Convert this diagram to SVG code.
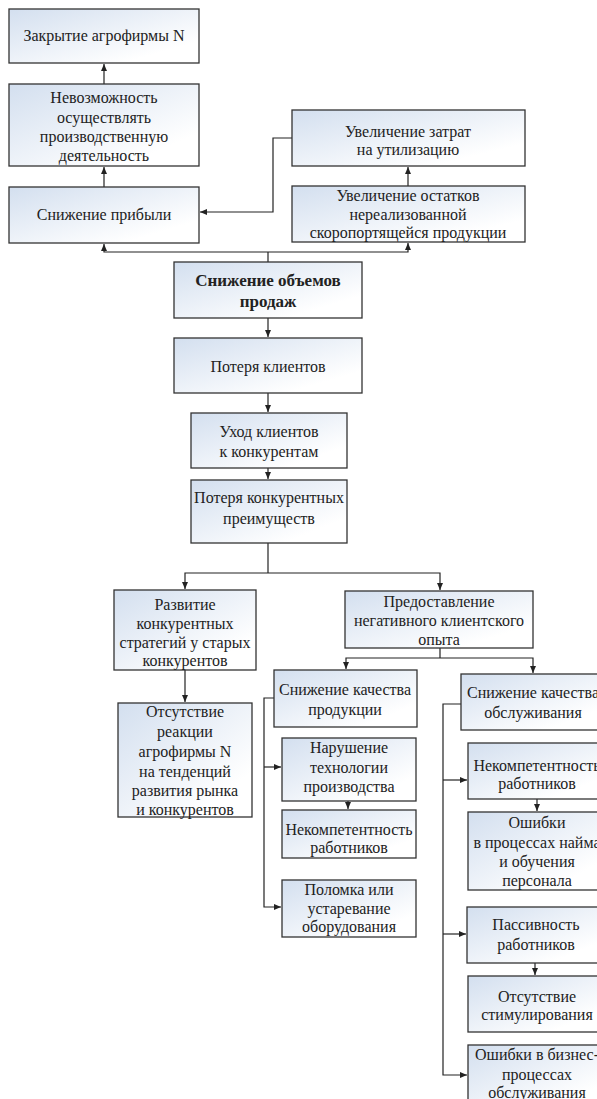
<svg xmlns="http://www.w3.org/2000/svg" width="597" height="1099" viewBox="0 0 597 1099">
<defs>
<linearGradient id="g" x1="0" y1="0" x2="1" y2="1">
<stop offset="0" stop-color="#d3dfef"/>
<stop offset="0.8" stop-color="#ffffff"/>
</linearGradient>
<marker id="ah" markerUnits="userSpaceOnUse" markerWidth="8" markerHeight="8" viewBox="0 0 8 8" refX="7" refY="4" orient="auto">
<path d="M0,1 L7,4 L0,7 Z" fill="#222"/>
</marker>
<style>
rect{fill:url(#g);stroke:#333;stroke-width:1.3}
text{font-family:"Liberation Serif","Times New Roman",serif;font-size:16px;fill:#222;text-anchor:middle}
.b{font-weight:bold;font-size:17px}
#connectors path{fill:none;stroke:#222;stroke-width:1.2}
</style>
</defs>
<rect x="0" y="0" width="597" height="1099" style="fill:#fff;stroke:none"/>
<g id="connectors">
<path d="M104,84 V64" marker-end="url(#ah)"/>
<path d="M104,187 V167" marker-end="url(#ah)"/>
<path d="M292,138 H273 V212 H200" marker-end="url(#ah)"/>
<path d="M408,186 V167" marker-end="url(#ah)"/>
<path d="M268,262 V252"/>
<path d="M268,252 H104 V244" marker-end="url(#ah)"/>
<path d="M268,252 H408 V243" marker-end="url(#ah)"/>
<path d="M268,318 V337" marker-end="url(#ah)"/>
<path d="M268,393 V412" marker-end="url(#ah)"/>
<path d="M268,468 V479" marker-end="url(#ah)"/>
<path d="M268,543 V573"/>
<path d="M268,573 H185 V589" marker-end="url(#ah)"/>
<path d="M268,573 H440 V590" marker-end="url(#ah)"/>
<path d="M185,670 V702" marker-end="url(#ah)"/>
<path d="M440,648 V658"/>
<path d="M440,658 H346 V669" marker-end="url(#ah)"/>
<path d="M440,658 H533 V673" marker-end="url(#ah)"/>
<path d="M274,698 H264 V907 H281" marker-end="url(#ah)"/>
<path d="M264,767 H281" marker-end="url(#ah)"/>
<path d="M348,801 V809" marker-end="url(#ah)"/>
<path d="M461,704 H443 V1075 H467" marker-end="url(#ah)"/>
<path d="M443,780 H467" marker-end="url(#ah)"/>
<path d="M443,934 H466" marker-end="url(#ah)"/>
<path d="M537,799 V811" marker-end="url(#ah)"/>
<path d="M535,963 V975" marker-end="url(#ah)"/>
</g>
<g id="n1"><rect x="9" y="9" width="190" height="54"/><text x="104" y="41">Закрытие агрофирмы N</text></g>
<g id="n2"><rect x="9" y="84" width="190" height="82"/><text x="104" y="103">Невозможность</text><text x="104" y="123">осуществлять</text><text x="104" y="142">производственную</text><text x="104" y="161">деятельность</text></g>
<g id="n3"><rect x="9" y="187" width="190" height="56"/><text x="104" y="220">Снижение прибыли</text></g>
<g id="n4"><rect x="292" y="110" width="233" height="56"/><text x="408" y="137">Увеличение затрат</text><text x="408" y="155">на утилизацию</text></g>
<g id="n5"><rect x="292" y="186" width="233" height="56"/><text x="408" y="201">Увеличение остатков</text><text x="408" y="220">нереализованной</text><text x="408" y="238">скоропортящейся продукции</text></g>
<g id="n6"><rect x="174" y="262" width="188" height="56"/><text class="b" x="268" y="286">Снижение объемов</text><text class="b" x="268" y="307">продаж</text></g>
<g id="n7"><rect x="174" y="338" width="188" height="55"/><text x="268" y="372">Потеря клиентов</text></g>
<g id="n8"><rect x="191" y="413" width="156" height="55"/><text x="269" y="437">Уход клиентов</text><text x="269" y="457">к конкурентам</text></g>
<g id="n9"><rect x="191" y="480" width="156" height="63"/><text x="269" y="503">Потеря конкурентных</text><text x="269" y="524">преимуществ</text></g>
<g id="n10"><rect x="114" y="590" width="142" height="80"/><text x="185" y="610">Развитие</text><text x="185" y="629">конкурентных</text><text x="185" y="648">стратегий у старых</text><text x="185" y="666">конкурентов</text></g>
<g id="n11"><rect x="118" y="703" width="134" height="114"/><text x="185" y="717">Отсутствие</text><text x="185" y="737">реакции</text><text x="185" y="757">агрофирмы  N</text><text x="185" y="777">на тенденций</text><text x="185" y="796">развития рынка</text><text x="185" y="815">и конкурентов</text></g>
<g id="n12"><rect x="345" y="591" width="188" height="57"/><text x="439" y="607">Предоставление</text><text x="439" y="626">негативного клиентского</text><text x="439" y="645">опыта</text></g>
<g id="n13"><rect x="274" y="670" width="143" height="57"/><text x="345" y="695">Снижение качества</text><text x="345" y="715">продукции</text></g>
<g id="n14"><rect x="461" y="674" width="144" height="56"/><text x="533" y="698">Снижение качества</text><text x="533" y="718">обслуживания</text></g>
<g id="n15"><rect x="282" y="738" width="134" height="63"/><text x="349" y="753">Нарушение</text><text x="349" y="773">технологии</text><text x="349" y="792">производства</text></g>
<g id="n16"><rect x="282" y="810" width="134" height="48"/><text x="349" y="835">Некомпетентность</text><text x="349" y="853">работников</text></g>
<g id="n17"><rect x="282" y="880" width="134" height="57"/><text x="349" y="895">Поломка или</text><text x="349" y="914">устаревание</text><text x="349" y="932">оборудования</text></g>
<g id="n18"><rect x="468" y="743" width="138" height="56"/><text x="537" y="771">Некомпетентность</text><text x="537" y="789">работников</text></g>
<g id="n19"><rect x="468" y="812" width="138" height="78"/><text x="537" y="828">Ошибки</text><text x="537" y="848">в процессах найма</text><text x="537" y="867">и обучения</text><text x="537" y="886">персонала</text></g>
<g id="n20"><rect x="467" y="907" width="138" height="56"/><text x="536" y="930">Пассивность</text><text x="536" y="950">работников</text></g>
<g id="n21"><rect x="468" y="976" width="138" height="56"/><text x="537" y="1002">Отсутствие</text><text x="537" y="1020">стимулирования</text></g>
<g id="n22"><rect x="468" y="1045" width="138" height="64"/><text x="537" y="1060">Ошибки в бизнес-</text><text x="537" y="1080">процессах</text><text x="537" y="1098">обслуживания</text></g>
</svg>
